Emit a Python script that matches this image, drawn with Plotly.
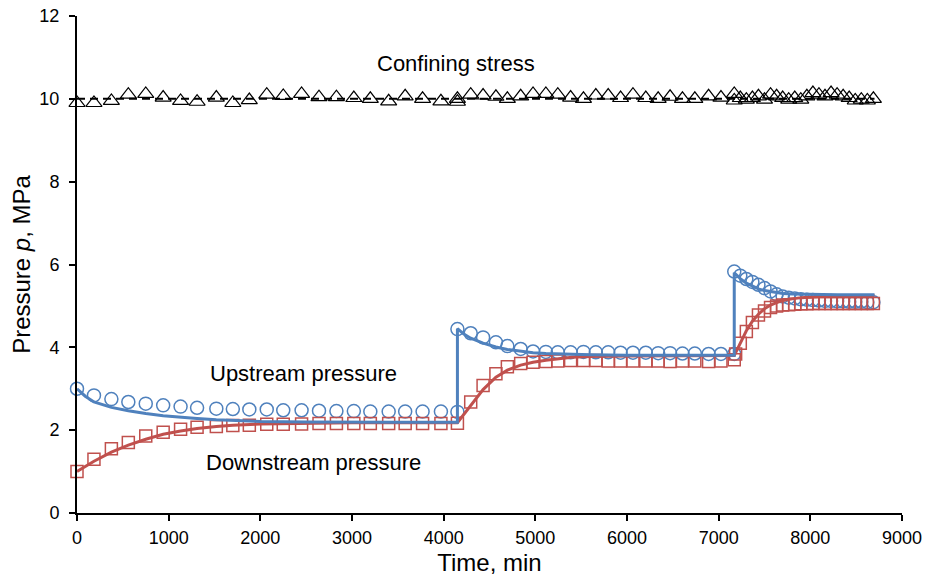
import plotly.graph_objects as go

# ---------------- data ----------------
# Upstream pressure, measured (open circles)
t_up = [0, 185, 375, 560, 750, 940, 1130, 1310, 1520, 1700, 1880, 2070, 2250, 2450, 2640, 2830,
        3020, 3200, 3400, 3580, 3770, 3970, 4150,
        4150, 4295, 4430, 4570, 4695, 4840, 4975, 5115, 5245, 5385, 5525, 5660, 5795, 5930, 6065,
        6205, 6340, 6470, 6605, 6740, 6890, 7025, 7170,
        7170, 7236, 7302, 7368, 7434, 7500, 7566, 7632, 7698, 7764, 7830, 7896, 7962, 8028, 8094,
        8160, 8226, 8292, 8358, 8424, 8490, 8556, 8622, 8688]
p_up = [3.00, 2.84, 2.75, 2.68, 2.64, 2.60, 2.57, 2.54, 2.52, 2.51, 2.50, 2.50, 2.48, 2.48, 2.47, 2.46,
        2.46, 2.45, 2.45, 2.45, 2.45, 2.45, 2.44,
        4.44, 4.34, 4.24, 4.12, 4.03, 3.96, 3.90, 3.89, 3.88, 3.88, 3.89, 3.88, 3.88, 3.87, 3.87,
        3.87, 3.86, 3.86, 3.85, 3.85, 3.84, 3.84, 3.84,
        5.83, 5.73, 5.65, 5.58, 5.51, 5.43, 5.35, 5.28, 5.23, 5.20, 5.18, 5.16, 5.15, 5.14, 5.13,
        5.12, 5.12, 5.11, 5.11, 5.10, 5.10, 5.10, 5.09, 5.09]

# Downstream pressure, measured (open squares)
t_down = [0, 185, 375, 560, 750, 940, 1130, 1310, 1520, 1700, 1880, 2070, 2250, 2450, 2640, 2830,
          3020, 3200, 3400, 3580, 3770, 3970, 4150,
          4295, 4430, 4570, 4695, 4840, 4975, 5115, 5245, 5385, 5525, 5660, 5795, 5930, 6065,
          6205, 6340, 6470, 6605, 6740, 6890, 7025, 7170,
          7185, 7236, 7302, 7368, 7434, 7500, 7566, 7632, 7698, 7764, 7830, 7896, 7962, 8028, 8094,
          8160, 8226, 8292, 8358, 8424, 8490, 8556, 8622, 8688]
p_down = [1.00, 1.30, 1.55, 1.70, 1.86, 1.95, 2.02, 2.07, 2.09, 2.11, 2.12, 2.14, 2.14, 2.15, 2.16, 2.16,
          2.16, 2.16, 2.16, 2.16, 2.16, 2.16, 2.17,
          2.68, 3.08, 3.36, 3.53, 3.61, 3.64, 3.66, 3.67, 3.68, 3.68, 3.68, 3.67, 3.67, 3.67,
          3.67, 3.67, 3.66, 3.67, 3.67, 3.66, 3.67, 3.70,
          3.84, 4.10, 4.38, 4.60, 4.78, 4.88, 4.96, 5.00, 5.02, 5.03, 5.04, 5.05, 5.05, 5.06, 5.06,
          5.06, 5.06, 5.06, 5.06, 5.06, 5.06, 5.06, 5.06, 5.06]

# Model fit, upstream (blue line)
t_up_fit = [0, 90, 185, 375, 560, 750, 940, 1130, 1310, 1520, 1700, 2000, 2500, 3000, 3500, 4150,
            4150, 4220, 4295, 4430, 4570, 4695, 4840, 4975, 5115, 5245, 5400, 5600, 6000, 6500, 7170,
            7170, 7236, 7302, 7368, 7434, 7500, 7600, 7700, 7800, 8000, 8300, 8700]
p_up_fit = [3.00, 2.82, 2.68, 2.55, 2.47, 2.40, 2.35, 2.31, 2.28, 2.25, 2.23, 2.21, 2.20, 2.19, 2.19, 2.19,
            4.45, 4.32, 4.22, 4.10, 4.01, 3.95, 3.90, 3.87, 3.85, 3.84, 3.83, 3.82, 3.81, 3.81, 3.81,
            5.80, 5.66, 5.55, 5.47, 5.41, 5.37, 5.33, 5.30, 5.29, 5.28, 5.27, 5.27]

# Model fit, downstream (red line)
t_down_fit = [0, 185, 375, 560, 750, 940, 1130, 1310, 1520, 1700, 2000, 2500, 3000, 4150,
              4220, 4295, 4430, 4570, 4695, 4840, 4975, 5115, 5245, 5400, 5600, 6000, 7170,
              7236, 7302, 7368, 7434, 7500, 7566, 7632, 7700, 7800, 7900, 8100, 8700]
p_down_fit = [1.00, 1.25, 1.47, 1.64, 1.78, 1.90, 1.98, 2.04, 2.09, 2.12, 2.15, 2.17, 2.18, 2.18,
              2.38, 2.58, 2.98, 3.28, 3.45, 3.57, 3.64, 3.69, 3.73, 3.76, 3.78, 3.79, 3.80,
              4.10, 4.40, 4.63, 4.80, 4.93, 5.02, 5.08, 5.13, 5.17, 5.20, 5.23, 5.25]

# Confining stress (open triangles)
t_conf = [0, 185, 375, 560, 750, 940, 1130, 1310, 1520, 1700, 1880, 2070, 2250, 2450, 2640, 2830,
          3020, 3200, 3400, 3580, 3770, 3970, 4150, 4150,
          4295, 4430, 4570, 4695, 4840, 4975, 5115, 5245, 5385, 5525, 5660, 5795, 5930, 6065,
          6205, 6340, 6470, 6605, 6740, 6890, 7025, 7170,
          7170, 7236, 7302, 7368, 7434, 7500, 7566, 7632, 7698, 7764, 7830, 7896, 7962, 8028, 8094,
          8160, 8226, 8292, 8358, 8424, 8490, 8556, 8622, 8688]
p_conf = [9.90, 9.90, 9.95, 10.10, 10.12, 10.03, 9.95, 9.93, 10.03, 9.90, 9.97, 10.10, 10.07, 10.12, 10.04, 10.04,
          10.02, 10.00, 9.94, 10.06, 10.00, 9.94, 10.00, 9.93,
          10.10, 10.08, 10.05, 10.00, 10.06, 10.12, 10.12, 10.10, 10.03, 10.00, 10.08, 10.08, 10.02, 10.10,
          10.02, 10.00, 10.05, 10.00, 10.00, 10.06, 10.03, 10.12,
          9.96, 10.02, 9.98, 10.02, 10.06, 9.98, 10.10, 10.06, 10.02, 9.98, 10.02, 9.98, 10.06, 10.14, 10.10,
          10.06, 10.14, 10.10, 10.06, 10.02, 9.96, 9.98, 9.96, 10.00]
conf_level = 10.0
conf_span = [0, 8700]

x_ticks = [0, 1000, 2000, 3000, 4000, 5000, 6000, 7000, 8000, 9000]
y_ticks = [0, 2, 4, 6, 8, 10, 12]

BLUE = "#4F81BD"
RED = "#C0504D"
FONT = "Liberation Sans, Arial, sans-serif"

fig = go.Figure()

# confining stress dashed reference line
fig.add_trace(go.Scatter(x=conf_span, y=[conf_level, conf_level], mode="lines",
                         line=dict(color="black", width=2, dash="8px,5px"),
                         hoverinfo="skip", showlegend=False))
fig.add_trace(go.Scatter(x=t_conf, y=p_conf, mode="markers",
                         marker=dict(symbol="triangle-up-open", size=14, color="black",
                                     line=dict(width=1.2, color="black")),
                         showlegend=False, cliponaxis=False))

fig.add_trace(go.Scatter(x=t_up, y=p_up, mode="markers",
                         marker=dict(symbol="circle-open", size=13, color=BLUE,
                                     line=dict(width=1.5, color=BLUE)),
                         showlegend=False, cliponaxis=False))
fig.add_trace(go.Scatter(x=t_down, y=p_down, mode="markers",
                         marker=dict(symbol="square-open", size=12, color=RED,
                                     line=dict(width=1.5, color=RED)),
                         showlegend=False, cliponaxis=False))

fig.add_trace(go.Scatter(x=t_down_fit, y=p_down_fit, mode="lines",
                         line=dict(color=RED, width=3), showlegend=False))
fig.add_trace(go.Scatter(x=t_up_fit, y=p_up_fit, mode="lines",
                         line=dict(color=BLUE, width=3), showlegend=False))

fig.add_annotation(x=4135, y=10.85, text="Confining stress", showarrow=False,
                   font=dict(family=FONT, size=22, color="black"))
fig.add_annotation(x=2476, y=3.38, text="Upstream pressure", showarrow=False,
                   font=dict(family=FONT, size=22, color="black"))
fig.add_annotation(x=2585, y=1.21, text="Downstream pressure", showarrow=False,
                   font=dict(family=FONT, size=22, color="black"))

fig.update_layout(
    width=925, height=581,
    margin=dict(l=77, r=23, t=16, b=68, autoexpand=False),
    paper_bgcolor="white", plot_bgcolor="white",
    font=dict(family=FONT, color="black"),
    showlegend=False,
)
fig.update_xaxes(range=[0, 9000], tickvals=x_ticks, ticktext=[str(v) for v in x_ticks],
                 showline=True, linecolor="black", linewidth=2, mirror=False, automargin=False,
                 ticks="outside", ticklen=6, tickwidth=2, tickcolor="black",
                 showgrid=False, zeroline=False,
                 tickfont=dict(family=FONT, size=18, color="black"), ticklabelstandoff=1,
                 title=dict(text="Time, min", font=dict(family=FONT, size=24, color="black"), standoff=8))
fig.update_yaxes(range=[0, 12], tickvals=y_ticks, ticktext=[str(v) for v in y_ticks],
                 showline=True, linecolor="black", linewidth=2, mirror=False, automargin=False,
                 ticks="outside", ticklen=6, tickwidth=2, tickcolor="black",
                 showgrid=False, zeroline=False,
                 tickfont=dict(family=FONT, size=18, color="black"), ticklabelstandoff=6,
                 title=dict(text="Pressure <i>p</i>, MPa", font=dict(family=FONT, size=24, color="black"), standoff=2))

fig.write_html("out.html")
